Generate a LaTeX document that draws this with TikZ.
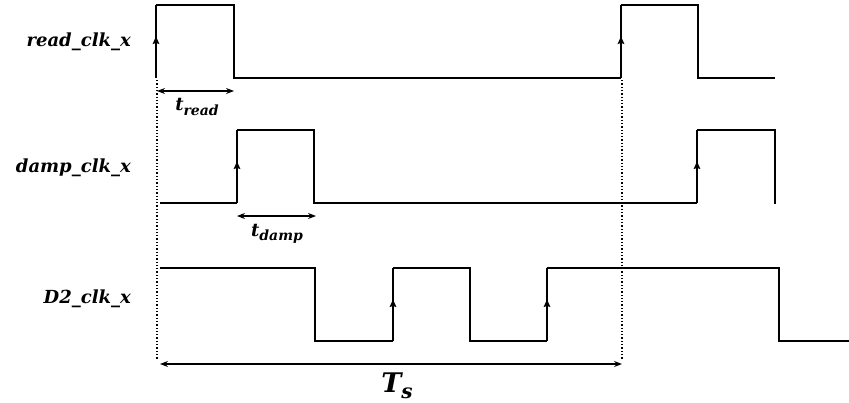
\documentclass[tikz,border=0pt]{standalone}
\usepackage{fontspec}
\newfontfamily\lblfont{DejaVu Serif}
\usetikzlibrary{arrows.meta,decorations.markings}
\newcommand{\subtxt}[2]{{\fontsize{#1}{#1}\selectfont\raisebox{-0.3em}{#2}}}
\begin{document}
\begin{tikzpicture}[x=1pt,y=-1pt,
  wave/.style={line width=1.6pt,line join=miter},
  rise/.style={line width=1.6pt,postaction={decorate},decoration={markings,mark=at position 0.57 with {\arrow{Stealth[length=7.5pt,width=6.5pt,inset=1pt]}}}},
  guide/.style={line width=1.3pt,dotted},
  dim/.style={line width=1.1pt,{Stealth[length=8pt,width=6pt]}-{Stealth[length=8pt,width=6pt]}},
  sig/.style={font=\lblfont\fontsize{18}{21}\selectfont\bfseries\itshape,anchor=east,inner sep=0pt},
  lbl/.style={font=\lblfont\fontsize{18}{21}\selectfont\bfseries\itshape,inner sep=0pt}]
\useasboundingbox (0,0) rectangle (849,402);
% read_clk_x
\node[sig] (r) at (131,42) {read\_clk\_x};
\draw[wave] (156,5) -- (234,5) -- (234,78) -- (621,78);
\draw[wave] (621,5) -- (698,5) -- (698,78) -- (775,78);
\draw[rise] (156,78) -- (156,5);
\draw[rise] (621,78) -- (621,5);
% damp_clk_x
\node[sig] (d) at (131,168) {damp\_clk\_x};
\draw[wave] (160,203) -- (237,203);
\draw[wave] (237,130) -- (314,130) -- (314,203) -- (697,203);
\draw[wave] (697,130) -- (775,130) -- (775,204);
\draw[rise] (237,203) -- (237,130);
\draw[rise] (697,203) -- (697,130);
% D2_clk_x
\node[sig] (c) at (131,299) {D2\_clk\_x};
\draw[wave] (160,268) -- (315,268) -- (315,341) -- (393,341);
\draw[wave] (393,268) -- (470,268) -- (470,341) -- (547,341);
\draw[wave] (547,268) -- (779,268) -- (779,341) -- (849,341);
\draw[rise] (393,341) -- (393,268);
\draw[rise] (547,341) -- (547,268);
% guides
\coordinate (g1t) at (157,80);
\coordinate (g1b) at (157,360);
\coordinate (g2t) at (622,80);
\coordinate (g2b) at (622,360);
\draw[guide] (g1t) -- (g1b);
\draw[guide] (g2t) -- (g2b);
% dimensions
\coordinate (a1) at (157,91); \coordinate (a2) at (234,91);
\draw[dim] (a1) -- (a2);
\node[lbl] (tr) at (197,107) {t\subtxt{14}{read}};
\coordinate (b1) at (237,216); \coordinate (b2) at (316,216);
\draw[dim] (b1) -- (b2);
\node[lbl] (td) at (277,234) {t\subtxt{14}{damp}};
\coordinate (c1) at (160,364); \coordinate (c2) at (622,364);
\draw[dim] (c1) -- (c2);
\node[font=\lblfont\fontsize{27}{30}\selectfont\bfseries\itshape,inner sep=0pt] (ts) at (397,386) {T\subtxt{20}{s}};
\end{tikzpicture}
\end{document}
